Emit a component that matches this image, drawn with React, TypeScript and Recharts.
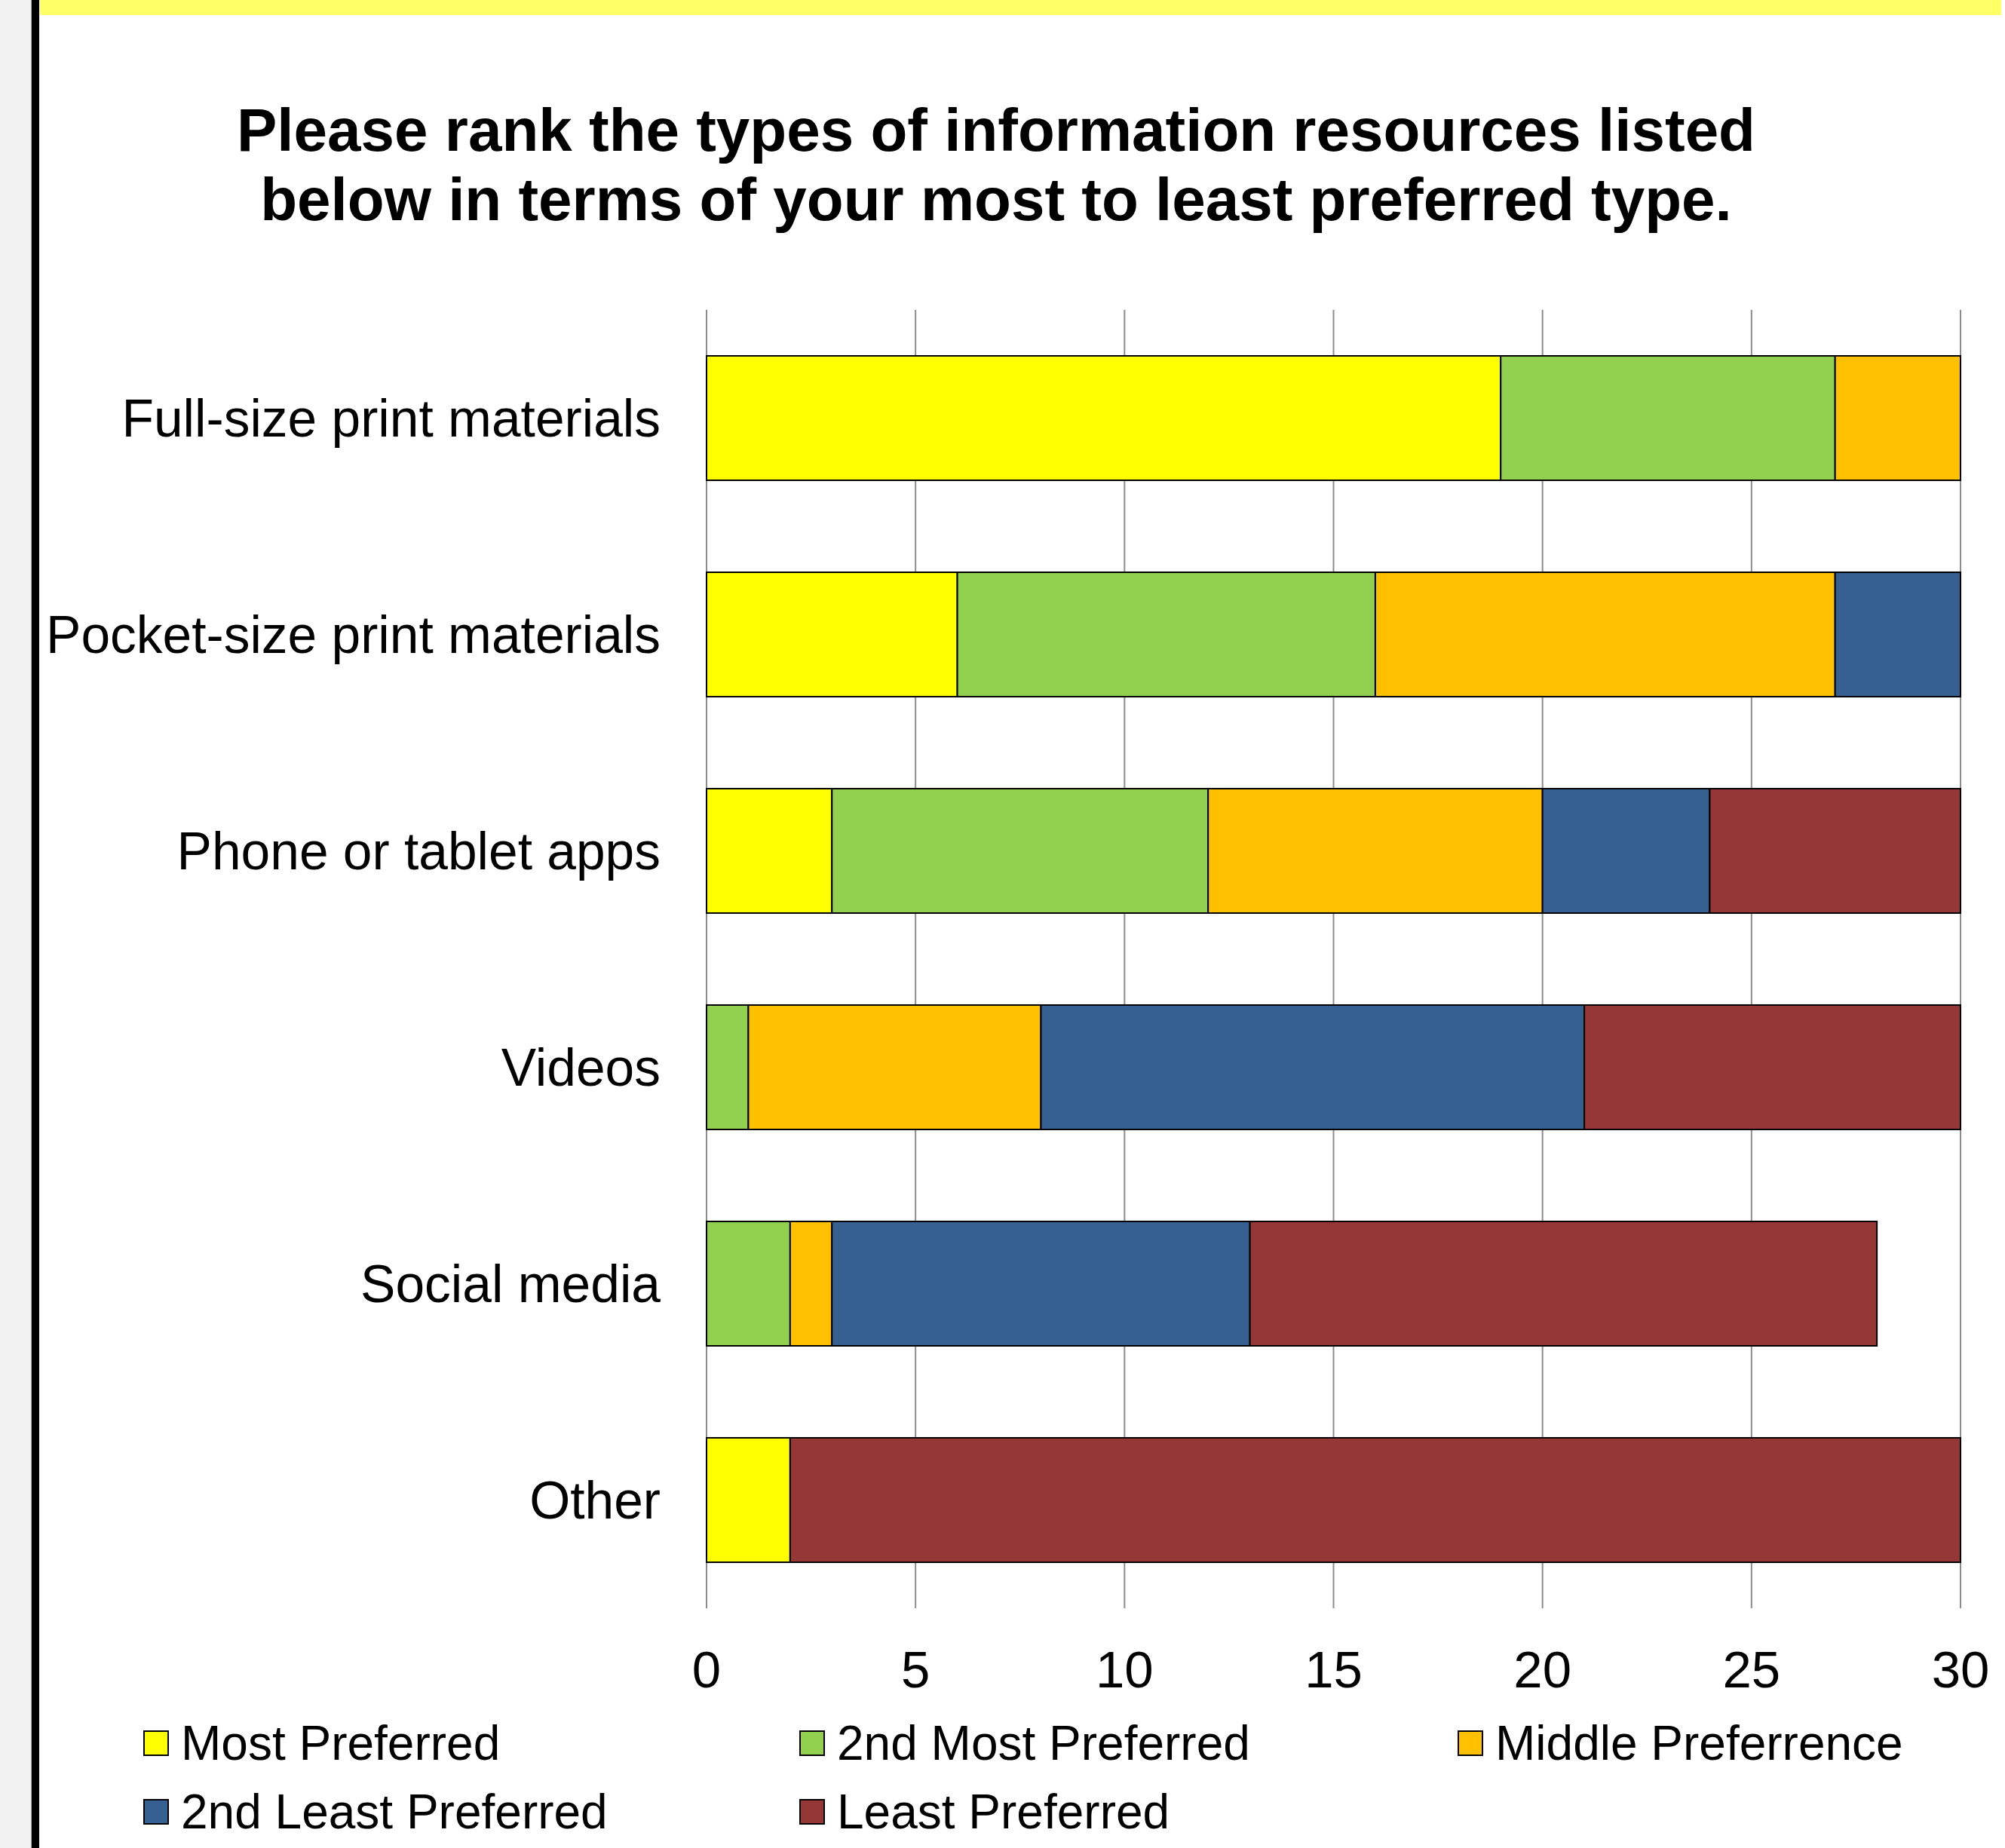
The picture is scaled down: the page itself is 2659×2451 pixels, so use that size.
import { BarChart, Bar, XAxis, YAxis, CartesianGrid } from "recharts";

const categories = [
  "Full-size print materials",
  "Pocket-size print materials",
  "Phone or tablet apps",
  "Videos",
  "Social media",
  "Other",
];

const mostPreferred = [19, 6, 3, 0, 0, 2];
const secondMost = [8, 10, 9, 1, 2, 0];
const middle = [3, 11, 8, 7, 1, 0];
const secondLeast = [0, 3, 4, 13, 10, 0];
const leastPreferred = [0, 0, 6, 9, 15, 28];

const xTicks = [0, 5, 10, 15, 20, 25, 30];

const SERIES = [
  { key: "most", name: "Most Preferred", color: "#FFFF00", values: mostPreferred },
  { key: "second", name: "2nd Most Preferred", color: "#92D050", values: secondMost },
  { key: "middle", name: "Middle Preferrence", color: "#FFC000", values: middle },
  { key: "secondLeast", name: "2nd Least Preferred", color: "#376092", values: secondLeast },
  { key: "least", name: "Least Preferred", color: "#953735", values: leastPreferred },
];

const FONT = "'Liberation Sans', Arial, sans-serif";

// legend grid: 3 columns, 2 rows
const LEGEND_COLS = [190, 1060, 1933];
const LEGEND_ROWS = [2312, 2403];

export default function App() {
  const data = categories.map((name, i) => {
    const row: Record<string, string | number> = { name };
    SERIES.forEach((s) => (row[s.key] = s.values[i]));
    return row;
  });

  return (
    <div
      style={{
        position: "absolute",
        left: 0,
        top: 0,
        width: 2659,
        height: 2451,
        background: "#fff",
        fontFamily: FONT,
        overflow: "hidden",
      }}
    >
      {/* left page edge */}
      <div style={{ position: "absolute", left: 0, top: 0, width: 41, height: 2451, background: "#f2f2f2" }} />
      <div style={{ position: "absolute", left: 41, top: 0, width: 1, height: 2451, background: "#aaa" }} />
      <div style={{ position: "absolute", left: 42, top: 0, width: 10, height: 2451, background: "#000" }} />
      {/* yellow banner at top */}
      <div style={{ position: "absolute", left: 53, top: 0, width: 2601, height: 20, background: "#ffff66" }} />

      <div
        style={{
          position: "absolute",
          left: 0,
          top: 127,
          width: 2642,
          textAlign: "center",
          fontWeight: "bold",
          fontSize: 80,
          lineHeight: "92px",
          color: "#000",
        }}
      >
        Please rank the types of information resources listed
        <br />
        below in terms of your most to least preferred type.
      </div>

      <div style={{ position: "absolute", left: 0, top: 0 }}>
        <BarChart
          width={2659}
          height={2451}
          data={data}
          layout="vertical"
          margin={{ top: 411, right: 59, bottom: 0, left: 0 }}
        >
          <CartesianGrid vertical horizontal={false} stroke="#8c8c8c" strokeWidth={2} />
          <XAxis
            type="number"
            domain={[0, 30]}
            ticks={xTicks}
            axisLine={false}
            tickLine={false}
            tickMargin={50}
            height={318}
            tick={{ fontSize: 69, fill: "#000", fontFamily: FONT }}
          />
          <YAxis
            type="category"
            dataKey="name"
            width={937}
            axisLine={false}
            tickLine={false}
            tickMargin={55}
            interval={0}
            tick={{ fontSize: 69.5, fill: "#000", fontFamily: FONT }}
          />
          {SERIES.map((s) => (
            <Bar
              key={s.key}
              dataKey={s.key}
              name={s.name}
              stackId="a"
              fill={s.color}
              stroke="#000"
              strokeWidth={2}
              barSize={165}
              isAnimationActive={false}
            />
          ))}
        </BarChart>
      </div>

      {SERIES.map((s, i) => {
        const left = LEGEND_COLS[i % 3];
        const cy = LEGEND_ROWS[Math.floor(i / 3)];
        return (
          <div
            key={s.key}
            style={{
              position: "absolute",
              left,
              top: cy - 35,
              height: 70,
              display: "flex",
              alignItems: "center",
              whiteSpace: "nowrap",
            }}
          >
            <div
              style={{
                width: 30,
                height: 30,
                background: s.color,
                border: "2px solid #000",
                marginRight: 16,
              }}
            />
            <span style={{ fontSize: 64, lineHeight: "70px", color: "#000" }}>{s.name}</span>
          </div>
        );
      })}
    </div>
  );
}
